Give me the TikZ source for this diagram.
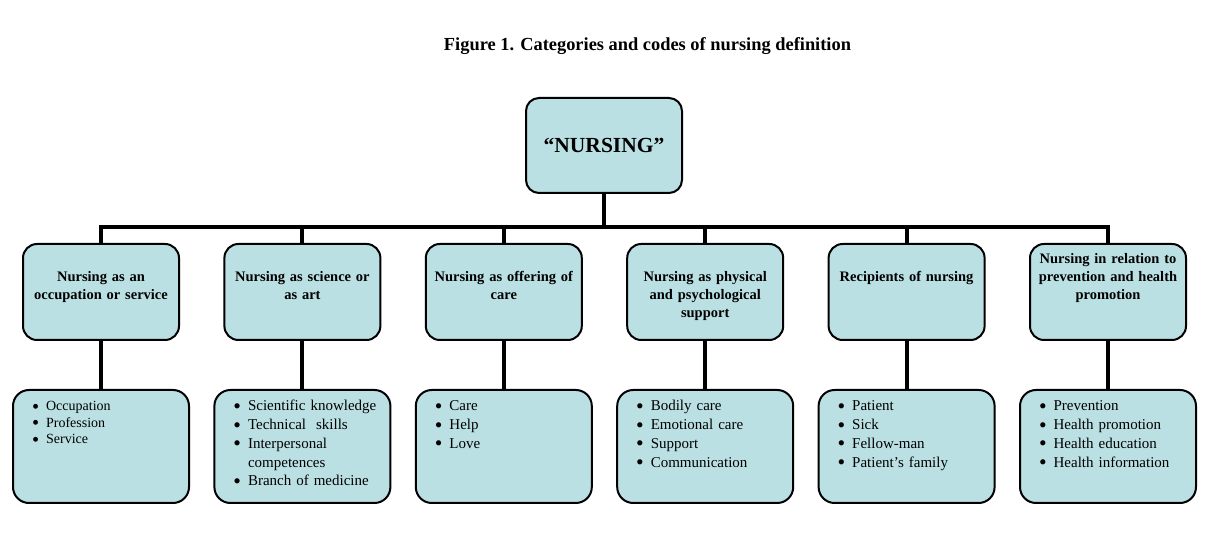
\documentclass[tikz,border=0pt]{standalone}
\usepackage{fontspec}
\setmainfont{Liberation Serif}
\definecolor{boxfill}{RGB}{187,224,227}
\tikzstyle{figtitle} = [font=\fontsize{18.4}{22}\selectfont\bfseries]
\tikzstyle{rootbox} = [rectangle,rounded corners=13pt,draw=black,line width=2pt,fill=boxfill,minimum width=156pt,minimum height=95pt,font=\fontsize{21.5}{26}\selectfont\bfseries]
\tikzstyle{catbox} = [rectangle,rounded corners=14pt,draw=black,line width=2pt,fill=boxfill,inner xsep=4pt,inner ysep=4pt,text width=148pt,align=center,text height=34pt,text depth=54pt,font=\fontsize{14.5}{18}\selectfont\bfseries]
\tikzstyle{codebox} = [rectangle,rounded corners=16pt,draw=black,line width=2pt,fill=boxfill,inner xsep=4pt,inner ysep=4pt,text width=168pt,align=left,text height=17pt,text depth=88pt,font=\fontsize{15}{18.75}\selectfont]
\tikzstyle{conn} = [line width=4pt]
\newcommand{\codelist}[1]{\hspace*{15pt}\begin{tabular}[t]{@{}l@{\hspace{7pt}}l@{}}#1\end{tabular}}
\newcommand{\itm}{\smash{\raisebox{-2.4pt}{\scalebox{1.45}{\textbullet}}} &}
\begin{document}
\begin{tikzpicture}[x=1pt,y=1pt,node distance=201.4pt]
\useasboundingbox (0,0) rectangle (1209,537);

\node (title) [figtitle] at (647.5,491) {Figure 1. Categories and codes of nursing definition};
\node (nursing) [rootbox] at (604,391.5) {“NURSING”};
\coordinate (bar) at (604,310);

\node (occupation) [catbox] at (101,245) {Nursing as an\\occupation or service};
\node (science) [catbox, right of=occupation] {Nursing as science or\\as art};
\node (offering) [catbox, right of=science] {Nursing as offering of\\care};
\node (physical) [catbox, right of=offering] {Nursing as physical\\and psychological\\support};
\node (recipients) [catbox, right of=physical] {Recipients of nursing};
\node (prevention) [catbox, right of=recipients, text height=16pt, text depth=72pt] {Nursing in relation to\\prevention and health\\promotion};

\node (occCodes) [codebox, below of=occupation, yshift=46.9pt, font=\fontsize{14}{16.5}\selectfont] {\codelist{\itm Occupation\\ \itm Profession\\ \itm Service}};
\node (sciCodes) [codebox, below of=science, yshift=46.9pt] {\codelist{\itm Scientific knowledge\\ \itm Technical~~skills\\ \itm Interpersonal\\ & competences\\ \itm Branch of medicine}};
\node (offCodes) [codebox, below of=offering, yshift=46.9pt] {\codelist{\itm Care\\ \itm Help\\ \itm Love}};
\node (phyCodes) [codebox, below of=physical, yshift=46.9pt] {\codelist{\itm Bodily care\\ \itm Emotional care\\ \itm Support\\ \itm Communication}};
\node (recCodes) [codebox, below of=recipients, yshift=46.9pt] {\codelist{\itm Patient\\ \itm Sick\\ \itm Fellow-man\\ \itm Patient’s family}};
\node (prevCodes) [codebox, below of=prevention, yshift=46.9pt] {\codelist{\itm Prevention\\ \itm Health promotion\\ \itm Health education\\ \itm Health information}};

\draw [conn] (nursing) -- (bar);
\draw [conn] (bar) -| (occupation);
\draw [conn] (bar) -| (science);
\draw [conn] (bar) -| (offering);
\draw [conn] (bar) -| (physical);
\draw [conn] (bar) -| (recipients);
\draw [conn] (bar) -| (prevention);

\draw [conn] (occupation) -- (occCodes);
\draw [conn] (science) -- (sciCodes);
\draw [conn] (offering) -- (offCodes);
\draw [conn] (physical) -- (phyCodes);
\draw [conn] (recipients) -- (recCodes);
\draw [conn] (prevention) -- (prevCodes);

\end{tikzpicture}
\end{document}
